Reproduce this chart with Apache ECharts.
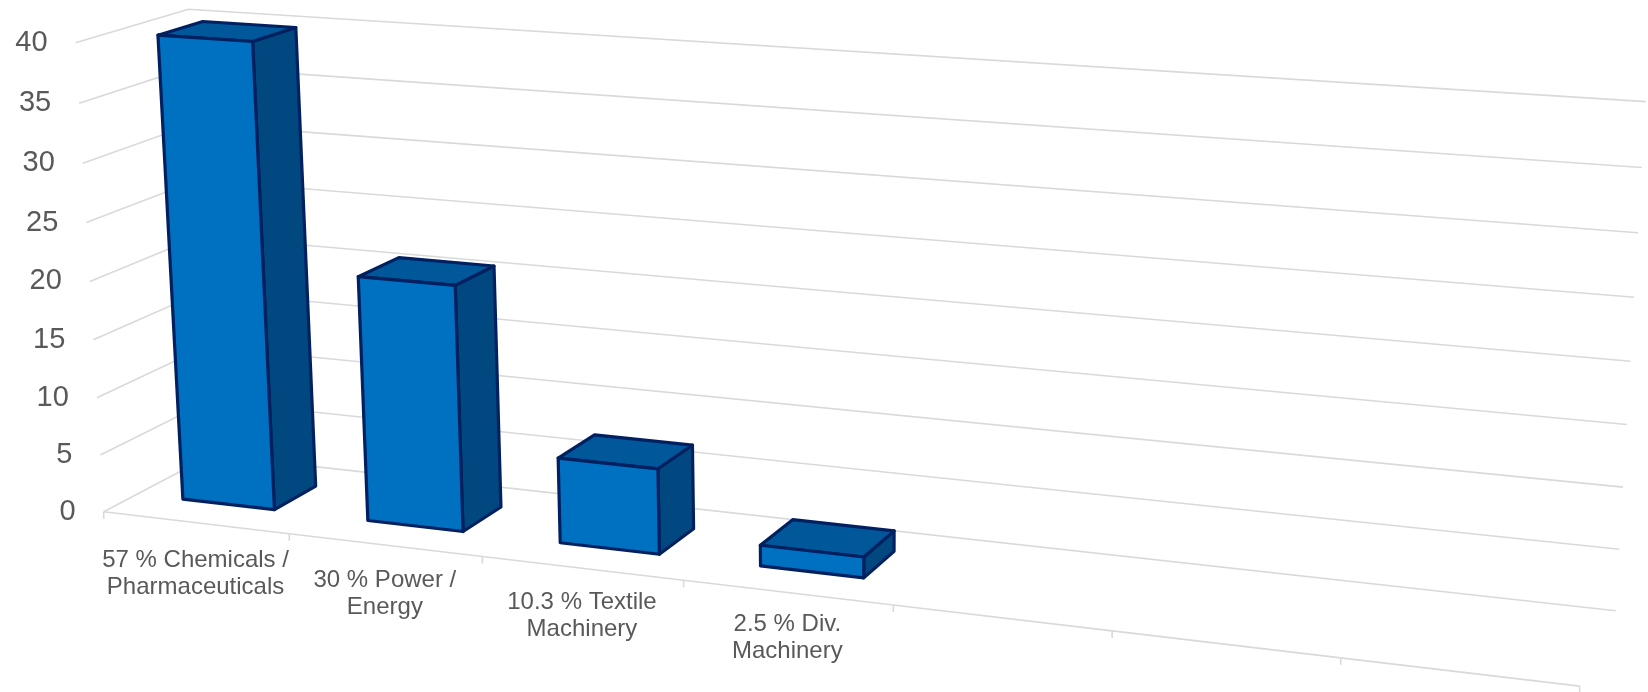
<!DOCTYPE html>
<html><head><meta charset="utf-8">
<script src="https://cdn.jsdelivr.net/npm/echarts@6/dist/echarts.min.js"></script>
<style>html,body{margin:0;padding:0;background:#fff}#c{width:1648px;height:692px}</style>
</head><body><div id="c"></div>
<script>
// ---------------- data ----------------
const categories = ['57 % Chemicals /\nPharmaceuticals', '30 % Power /\nEnergy', '10.3 % Textile\nMachinery', '2.5 % Div.\nMachinery', '', '', ''];
const values = [40, 21, 7.25, 1.75];
const yTicks = [0, 5, 10, 15, 20, 25, 30, 35, 40];
const yTickLabels = ['0', '5', '10', '15', '20', '25', '30', '35', '40'];

// ---------------- layout / style ----------------
const Y_MIN = 0, Y_MAX = 40, Y_STEP = 5;
// screen anchors of the 3-D plot box: [xFrac, depthFrac, heightFrac, px, py]
const BOX_ANCHORS = [
  [0,0,1,76,43],[0,0,0.875,79,103],[0,0,0.75,83,163],[0,0,0.625,86,222],[0,0,0.5,90,281],
  [0,0,0.375,93,339],[0,0,0.25,97,397],[0,0,0.125,100,454],[0,0,0,104.5,511],
  [0,1,1,188,10],
  [1,1,1,1646,102],[1,1,0.875,1642,168],[1,1,0.75,1638,233],[1,1,0.625,1634,297],[1,1,0.5,1631,361],
  [1,1,0.375,1627,424],[1,1,0.25,1623,487],[1,1,0.125,1619,549],[1,1,0,1616,610],
  [1/7,0,0,290,535],[2/7,0,0,482,558],[3/7,0,0,683,583],[6/7,0,0,1340,658],[1,0,0,1580,685]
];
const BAR_W = 0.5;                  // bar width as share of category band
const BAR_D0 = 0.305, BAR_D1 = 0.71; // bar depth range (share of floor depth)
const GRID_COLOR = '#d9d9d9';
const FRONT = '#0070c0', TOP = '#005799', SIDE = '#00487f', EDGE = '#002060';
const TEXT = '#595959';

// ---------------- projection fit (least squares) ----------------
function solve(A, b) {
  const n = A.length;
  const M = A.map((r, i) => r.concat([b[i]]));
  for (let c = 0; c < n; c++) {
    let p = c;
    for (let r = c + 1; r < n; r++) if (Math.abs(M[r][c]) > Math.abs(M[p][c])) p = r;
    [M[c], M[p]] = [M[p], M[c]];
    for (let r = 0; r < n; r++) {
      if (r === c) continue;
      const f = M[r][c] / M[c][c];
      for (let k = c; k <= n; k++) M[r][k] -= f * M[c][k];
    }
  }
  return M.map((r, i) => r[n] / r[i]);
}
const P = (function () {
  const rows = [], rhs = [];
  BOX_ANCHORS.forEach(([x, y, z, u, v]) => {
    u /= 1000; v /= 1000;
    rows.push([x, y, z, 1, 0, 0, 0, 0, -u * x, -u * y, -u * z]); rhs.push(u);
    rows.push([0, 0, 0, 0, x, y, z, 1, -v * x, -v * y, -v * z]); rhs.push(v);
  });
  const N = 11, AtA = [], Atb = [];
  for (let i = 0; i < N; i++) {
    AtA.push(new Array(N).fill(0)); Atb.push(0);
    for (let r = 0; r < rows.length; r++) {
      Atb[i] += rows[r][i] * rhs[r];
      for (let j = 0; j < N; j++) AtA[i][j] += rows[r][i] * rows[r][j];
    }
  }
  return solve(AtA, Atb);
})();
function project(x, y, z) {
  const w = P[8] * x + P[9] * y + P[10] * z + 1;
  return [(P[0] * x + P[1] * y + P[2] * z + P[3]) / w * 1000,
          (P[4] * x + P[5] * y + P[6] * z + P[7]) / w * 1000];
}

// ---------------- chart ----------------
const chart = echarts.init(document.getElementById('c'), null, { renderer: 'canvas' });
function frac(params, pt) {
  const cs = params.coordSys;
  return [(pt[0] - cs.x) / cs.width, (cs.y + cs.height - pt[1]) / cs.height];
}
const pts = a => a.map(p => project(p[0], p[1], p[2]));

chart.setOption({
  animation: false,
  grid: { left: 100, top: 100, width: 700, height: 400, show: false },
  xAxis: { type: 'category', data: categories, show: false, boundaryGap: true },
  yAxis: { type: 'value', min: Y_MIN, max: Y_MAX, interval: Y_STEP, show: false },
  series: [
    { // walls + value tick labels
      type: 'custom', silent: true, clip: false, z: 1,
      data: yTicks.map((t, i) => [0, t, i]),
      encode: { x: 0, y: 1 },
      renderItem(params, api) {
        const zf = frac(params, api.coord([0, api.value(1)]))[1];
        const p = pts([[0, 0, zf], [0, 1, zf], [1, 1, zf]]);
        return { type: 'group', children: [
          { type: 'polyline', shape: { points: p }, style: { stroke: GRID_COLOR, lineWidth: 1.6, fill: null } },
          { type: 'text', x: p[0][0] - 28, y: p[0][1], style: { text: yTickLabels[api.value(2)], font: '29px "Liberation Sans", Arial, sans-serif', fill: TEXT, align: 'right', verticalAlign: 'middle' } }
        ] };
      }
    },
    { // category axis: front floor edge, ticks, labels
      type: 'custom', silent: true, clip: false, z: 1,
      data: categories.map((c, i) => [i, 0]),
      encode: { x: 0, y: 1 },
      renderItem(params, api) {
        const i = api.value(0);
        const c = api.coord([i, 0]), band = api.size([1, 0])[0];
        const f0 = frac(params, [c[0] - band / 2, c[1]])[0];
        const f1 = frac(params, [c[0] + band / 2, c[1]])[0];
        const fm = frac(params, c)[0];
        const a = project(f0, 0, 0), b = project(f1, 0, 0), m = project(fm, 0, 0);
        const kids = [
          { type: 'line', shape: { x1: a[0], y1: a[1], x2: b[0], y2: b[1] }, style: { stroke: GRID_COLOR, lineWidth: 1.6 } },
          { type: 'line', shape: { x1: a[0], y1: a[1], x2: a[0], y2: a[1] + 7 }, style: { stroke: GRID_COLOR, lineWidth: 1.6 } }
        ];
        if (i === categories.length - 1) kids.push({ type: 'line', shape: { x1: b[0], y1: b[1], x2: b[0], y2: b[1] + 7 }, style: { stroke: GRID_COLOR, lineWidth: 1.6 } });
        if (categories[i]) kids.push({ type: 'text', x: m[0], y: m[1] + 23.8 - 1.8 * i, style: { text: categories[i], font: '24px "Liberation Sans", Arial, sans-serif', fill: TEXT, align: 'center', verticalAlign: 'top', lineHeight: 27 } });
        return { type: 'group', children: kids };
      }
    },
    { // 3-D bars
      type: 'custom', silent: true, clip: false, z: 2,
      data: values.map((v, i) => [i, v]),
      encode: { x: 0, y: 1 },
      renderItem(params, api) {
        const i = api.value(0), v = api.value(1);
        const c = api.coord([i, 0]), band = api.size([1, 0])[0];
        const x0 = frac(params, [c[0] - band * BAR_W / 2, c[1]])[0];
        const x1 = frac(params, [c[0] + band * BAR_W / 2, c[1]])[0];
        const zf = frac(params, api.coord([i, v]))[1];
        const d0 = BAR_D0, d1 = BAR_D1;
        const sty = fill => ({ fill, stroke: EDGE, lineWidth: 3.2, lineJoin: 'round' });
        return { type: 'group', children: [
          { type: 'polygon', shape: { points: pts([[x1, d0, 0], [x1, d1, 0], [x1, d1, zf], [x1, d0, zf]]) }, style: sty(SIDE) },
          { type: 'polygon', shape: { points: pts([[x0, d0, zf], [x1, d0, zf], [x1, d1, zf], [x0, d1, zf]]) }, style: sty(TOP) },
          { type: 'polygon', shape: { points: pts([[x0, d0, 0], [x1, d0, 0], [x1, d0, zf], [x0, d0, zf]]) }, style: sty(FRONT) }
        ] };
      }
    }
  ]
});
</script></body></html>
